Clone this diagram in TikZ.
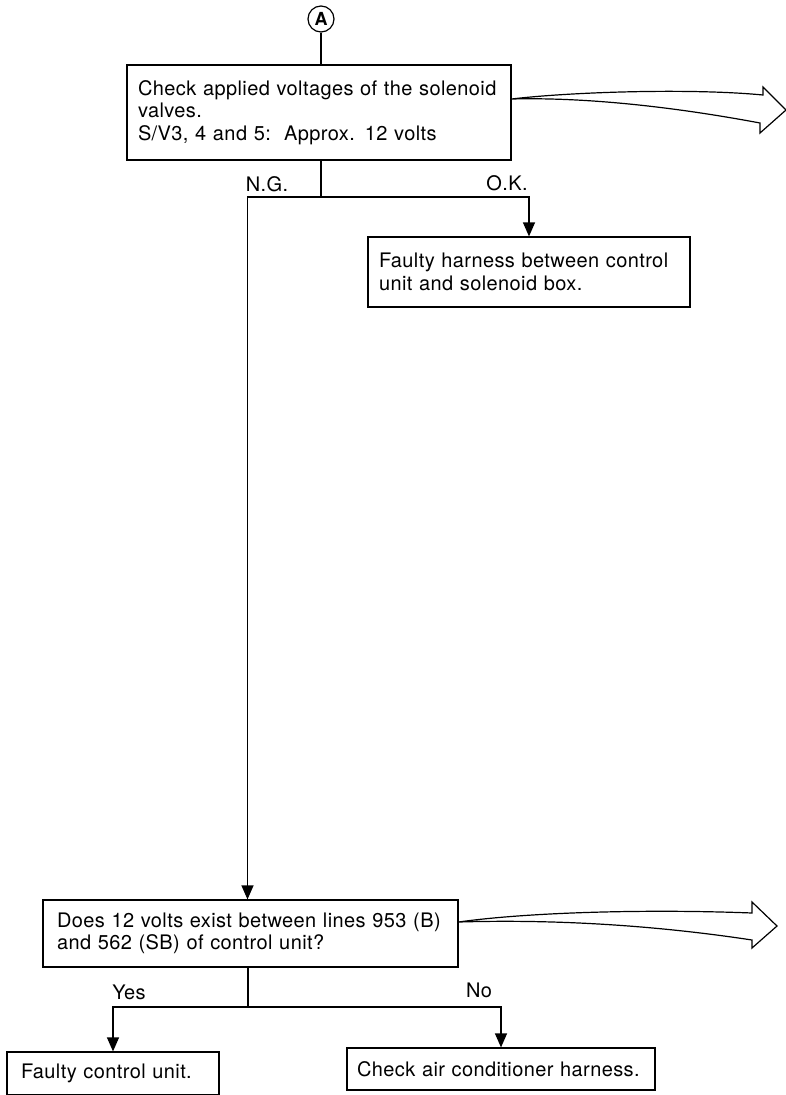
\documentclass[tikz,border=0pt]{standalone}
\usepackage{fontspec}
\setmainfont{TeX Gyre Heros}[LetterSpace=2]
\usepackage{tikz}
\usetikzlibrary{arrows.meta,positioning,calc}
\hyphenpenalty=10000

\begin{document}
\begin{tikzpicture}[
    x=1pt,
    y=-1pt,
    >={Triangle[width=12pt,length=14pt]},
    boite/.style={
        draw,
        line width=1.2pt,
        inner xsep=11pt,
        inner ysep=0pt,
        align=left,
        font=\fontsize{20}{22.5}\selectfont
    },
    renvoi/.style={
        circle,
        draw,
        line width=1.2pt,
        minimum size=26pt,
        inner sep=0pt,
        font=\fontsize{18}{18}\selectfont\bfseries
    },
    trait/.style={
        line width=1.2pt
    },
    fleche/.style={
        ->,
        line width=1.2pt
    },
    creuse/.style={
        draw,
        line width=1.2pt,
        line join=miter
    },
    etiq/.style={
        font=\fontsize{20}{22}\selectfont,
        inner sep=0pt
    }
]

\useasboundingbox (0,0) rectangle (786,1095);

% Connector A
\node[renvoi] (repA) at (321,19) {A};

% Boxes
\node[boite, text width=362pt, minimum height=95pt] (check) at (319,112.5)
{Check applied voltages of the solenoid\\valves.\\S/V3, 4 and 5:\ \ Approx. 12 volts};
\node[boite, text width=300pt, minimum height=70pt] (harnais) at (529,272)
{Faulty harness between control\\unit and solenoid box.};
\node[boite, inner xsep=14pt, text width=387pt, minimum height=67pt] (tension) at (250.5,933.5)
{Does 12 volts exist between lines 953 (B)\\and 562 (SB) of control unit?};
\node[boite, inner xsep=14pt, text width=184pt, minimum height=43pt] (defaut) at (113,1073.5)
{Faulty control unit.};
\node[boite, inner xsep=10pt, text width=288pt, minimum height=42pt] (faisceau) at (501,1069)
{Check air conditioner harness.};

% Branch points
\coordinate (bifA) at (321,197);
\coordinate (bifB) at (248,1007);

% Labels
\node[etiq] (ng) at (267,184) {N.G.};
\node[etiq] (ok) at (507,183) {O.K.};
\node[etiq] (oui) at (129,992) {Yes};
\node[etiq] (non) at (479,990) {No};

% Connectors
\draw[trait] (repA) -- (repA |- check.north);
\draw[trait] (bifA |- check.south) -- (bifA);
\draw[fleche] (bifA) -| (harnais.north);
\draw[fleche] (bifA) -| ([xshift=-3pt]tension.north);
\draw[trait] (bifB |- tension.south) -- (bifB);
\draw[fleche] (bifB) -| (defaut.north);
\draw[fleche] (bifB) -| (faisceau.north);

% Hollow arrows
\coordinate (sortieA) at (check.east |- 0,99);
\coordinate (pointeA) at (786,110);
\draw[creuse] (sortieA) .. controls (570,92) and (690,88) .. (763,95)
    -- (763,87) -- (pointeA) -- (760,133) -- (760,123)
    .. controls (680,108) and (590,97) .. (sortieA) -- cycle;

\coordinate (sortieB) at (tension.east |- 0,922);
\coordinate (pointeB) at (777,926);
\draw[creuse] (sortieB) .. controls (530,912) and (650,909) .. (752,913)
    -- (752,902) -- (pointeB) -- (752,948) -- (752,940)
    .. controls (660,926) and (560,919) .. (sortieB) -- cycle;

\end{tikzpicture}
\end{document}
